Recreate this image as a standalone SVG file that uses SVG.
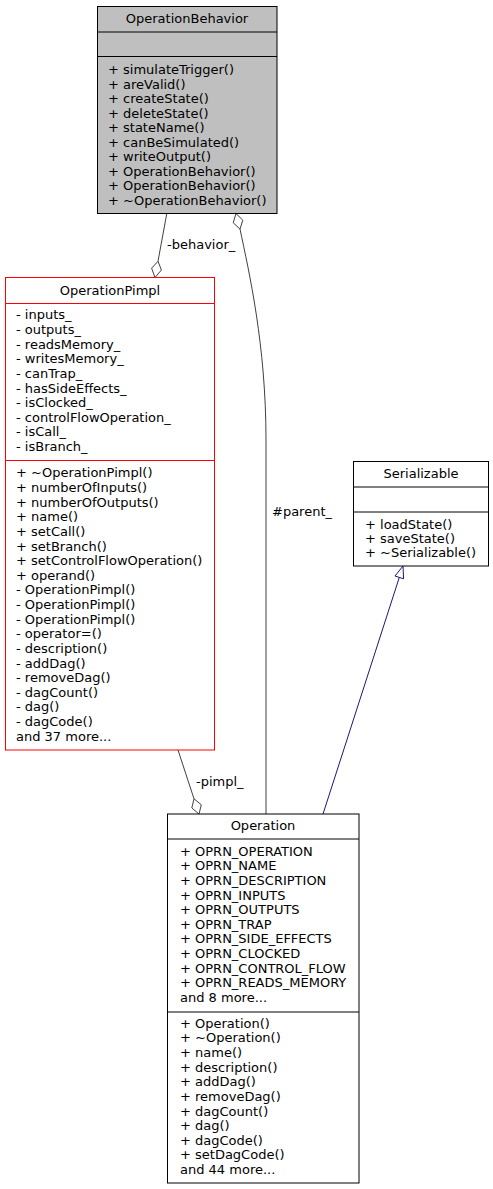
<svg xmlns="http://www.w3.org/2000/svg" width="493" height="1189" viewBox="0 0 493 1189">
<style>
text{font-family:"DejaVu Sans","Liberation Sans",sans-serif;font-size:13px;fill:#000}
.t{text-anchor:middle}
.box{fill:#fff;stroke:#000;stroke-width:1}
.grey{fill:#bfbfbf;stroke:#000;stroke-width:1}
.red{fill:#fff;stroke:#ff0000;stroke-width:1}
.sep{stroke:#000;stroke-width:1}
.sepr{stroke:#ff0000;stroke-width:1}
.agg{fill:none;stroke:#404040;stroke-width:1}
.dia{fill:#fff;stroke:#404040;stroke-width:1}
.inh{fill:none;stroke:#191970;stroke-width:1}
.tri{fill:#fff;stroke:#191970;stroke-width:1}
</style>
<rect width="493" height="1189" fill="#fff"/>
<g id="connectors">
<g id="edge-behavior">
<path class="agg" d="M166.7,214 L158,261.3"/>
<polygon class="dia" points="155,277.5 151.6,268.2 158,261.3 161.4,270"/>
<text x="167" y="249">-behavior_</text>
</g>
<g id="edge-parent">
<path class="agg" d="M240,229 C249,272 266,345 266,440 L266,814"/>
<polygon class="dia" points="236,213.5 233.2,222.8 240,229 242.8,220.2"/>
<text x="272" y="516">#parent_</text>
</g>
<g id="edge-pimpl">
<path class="agg" d="M178,750 L194,798.8"/>
<polygon class="dia" points="199,814 191.8,808 194,798.8 201.3,804.8"/>
<text x="196" y="786">-pimpl_</text>
</g>
<g id="edge-inherit">
<path class="inh" d="M323,814 L399.3,577.4"/>
<polygon class="tri" points="403,566 395,576 403.6,578.8"/>
</g>
</g>
<g id="OperationBehavior">
<rect class="grey" x="97.5" y="6.5" width="179.5" height="207"/>
<line class="sep" x1="97.5" y1="32" x2="277" y2="32"/>
<line class="sep" x1="97.5" y1="56.5" x2="277" y2="56.5"/>
<text class="t" x="187" y="23">OperationBehavior</text>
<text x="108" y="74">+ simulateTrigger()</text>
<text x="108" y="88.5">+ areValid()</text>
<text x="108" y="103">+ createState()</text>
<text x="108" y="117.5">+ deleteState()</text>
<text x="108" y="132">+ stateName()</text>
<text x="108" y="146.5">+ canBeSimulated()</text>
<text x="108" y="161">+ writeOutput()</text>
<text x="108" y="175.5">+ OperationBehavior()</text>
<text x="108" y="190">+ OperationBehavior()</text>
<text x="108" y="204.5">+ ~OperationBehavior()</text>
</g>
<g id="OperationPimpl">
<rect class="red" x="5.5" y="277.5" width="209" height="472.5"/>
<line class="sepr" x1="5.5" y1="303.5" x2="214.5" y2="303.5"/>
<line class="sepr" x1="5.5" y1="460.5" x2="214.5" y2="460.5"/>
<text class="t" x="110" y="295">OperationPimpl</text>
<text x="16" y="319.3">- inputs_</text>
<text x="16" y="333.9">- outputs_</text>
<text x="16" y="348.6">- readsMemory_</text>
<text x="16" y="363.2">- writesMemory_</text>
<text x="16" y="377.8">- canTrap_</text>
<text x="16" y="392.5">- hasSideEffects_</text>
<text x="16" y="407.1">- isClocked_</text>
<text x="16" y="421.7">- controlFlowOperation_</text>
<text x="16" y="436.3">- isCall_</text>
<text x="16" y="451">- isBranch_</text>
<text x="16" y="477.3">+ ~OperationPimpl()</text>
<text x="16" y="491.9">+ numberOfInputs()</text>
<text x="16" y="506.6">+ numberOfOutputs()</text>
<text x="16" y="521.2">+ name()</text>
<text x="16" y="535.8">+ setCall()</text>
<text x="16" y="550.5">+ setBranch()</text>
<text x="16" y="565.1">+ setControlFlowOperation()</text>
<text x="16" y="579.7">+ operand()</text>
<text x="16" y="594.3">- OperationPimpl()</text>
<text x="16" y="609">- OperationPimpl()</text>
<text x="16" y="623.6">- OperationPimpl()</text>
<text x="16" y="638.2">- operator=()</text>
<text x="16" y="652.9">- description()</text>
<text x="16" y="667.5">- addDag()</text>
<text x="16" y="682.1">- removeDag()</text>
<text x="16" y="696.8">- dagCount()</text>
<text x="16" y="711.4">- dag()</text>
<text x="16" y="726">- dagCode()</text>
<text x="16" y="740.7">and 37 more...</text>
</g>
<g id="Serializable">
<rect class="box" x="353.5" y="461.5" width="135" height="104.5"/>
<line class="sep" x1="353.5" y1="487" x2="488.5" y2="487"/>
<line class="sep" x1="353.5" y1="512" x2="488.5" y2="512"/>
<text class="t" x="421" y="478">Serializable</text>
<text x="365" y="529">+ loadState()</text>
<text x="365" y="543">+ saveState()</text>
<text x="365" y="557">+ ~Serializable()</text>
</g>
<g id="Operation">
<rect class="box" x="167.5" y="814" width="191.5" height="369"/>
<line class="sep" x1="167.5" y1="839" x2="359" y2="839"/>
<line class="sep" x1="167.5" y1="1012" x2="359" y2="1012"/>
<text class="t" x="263" y="830">Operation</text>
<text x="180" y="855.7">+ OPRN_OPERATION</text>
<text x="180" y="870.3">+ OPRN_NAME</text>
<text x="180" y="884.9">+ OPRN_DESCRIPTION</text>
<text x="180" y="899.6">+ OPRN_INPUTS</text>
<text x="180" y="914.2">+ OPRN_OUTPUTS</text>
<text x="180" y="928.8">+ OPRN_TRAP</text>
<text x="180" y="943.4">+ OPRN_SIDE_EFFECTS</text>
<text x="180" y="958.1">+ OPRN_CLOCKED</text>
<text x="180" y="972.7">+ OPRN_CONTROL_FLOW</text>
<text x="180" y="987.3">+ OPRN_READS_MEMORY</text>
<text x="180" y="1002">and 8 more...</text>
<text x="180" y="1027.7">+ Operation()</text>
<text x="180" y="1042.3">+ ~Operation()</text>
<text x="180" y="1057">+ name()</text>
<text x="180" y="1071.6">+ description()</text>
<text x="180" y="1086.2">+ addDag()</text>
<text x="180" y="1100.9">+ removeDag()</text>
<text x="180" y="1115.5">+ dagCount()</text>
<text x="180" y="1130.1">+ dag()</text>
<text x="180" y="1144.7">+ dagCode()</text>
<text x="180" y="1159.4">+ setDagCode()</text>
<text x="180" y="1174">and 44 more...</text>
</g>
</svg>
